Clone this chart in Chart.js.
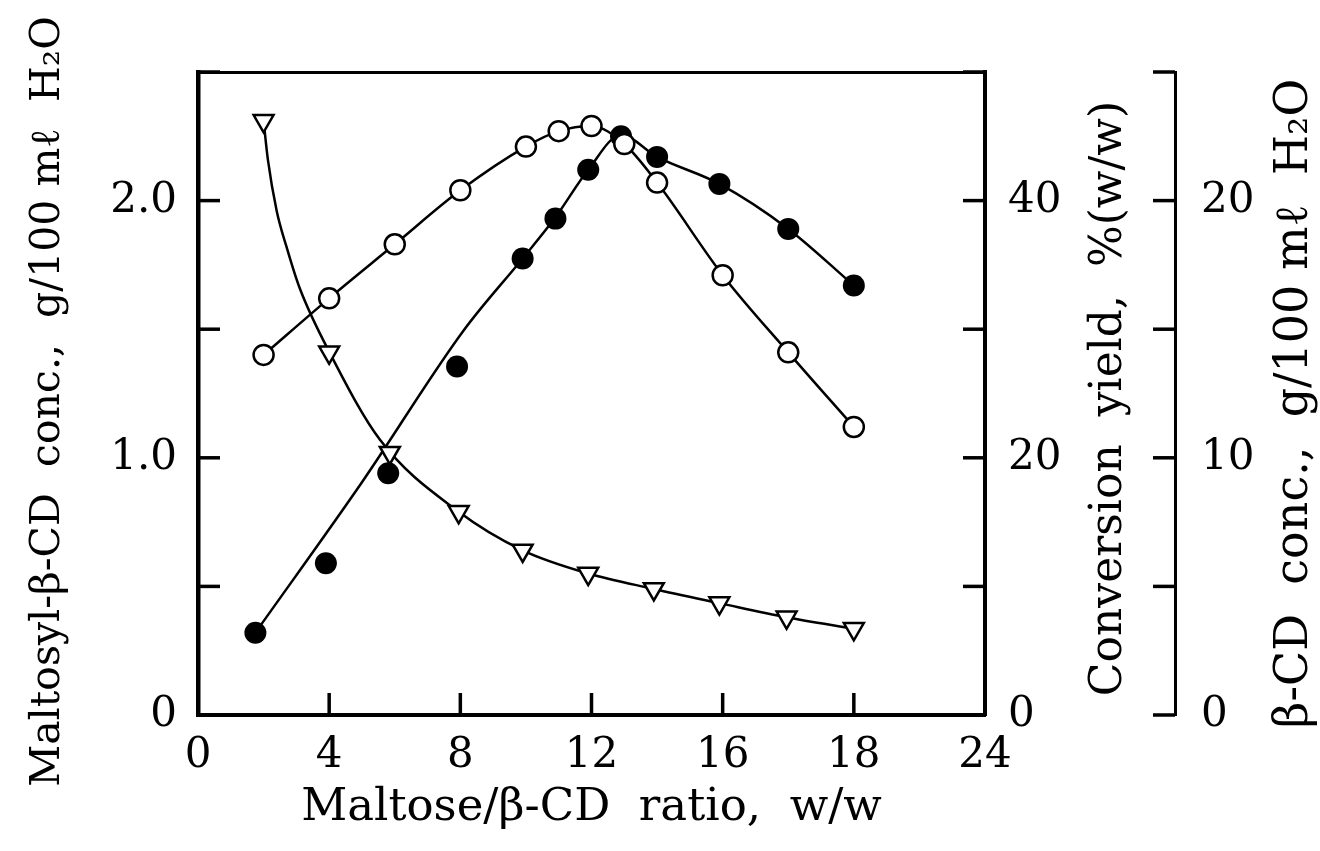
<!DOCTYPE html>
<html>
<head>
<meta charset="utf-8">
<script src="https://cdn.jsdelivr.net/npm/chart.js@4.4.1/dist/chart.umd.min.js"></script>
<style>
  html, body { margin: 0; padding: 0; background: #fff; }
  #wrap { width: 1320px; height: 851px; }
</style>
</head>
<body>
<div id="wrap"><canvas id="myChart" width="1320" height="851"></canvas></div>
<script>
// open circles: maltosyl-beta-CD conc. (left axis)
var ratioOpen = [2, 4, 6, 8, 10, 11, 12, 13, 14, 16, 18, 20];
var maltosylConc = [1.40, 1.62, 1.83, 2.04, 2.21, 2.27, 2.29, 2.22, 2.07, 1.71, 1.41, 1.12];

// filled circles: conversion yield (first right axis)
var ratioFilled = [1.75, 3.9, 5.8, 7.9, 9.9, 10.9, 11.9, 12.9, 14, 15.9, 18, 20];
var conversionYield = [6.4, 11.8, 18.8, 27.1, 35.5, 38.6, 42.4, 45.0, 43.4, 41.3, 37.8, 33.4];

// drawn curve for the filled points (misses the points at 4, 6, 8)
var yieldCurveRatio = [1.75, 5, 8.1, 9.9, 10.9, 11.9, 12.9, 14, 15.9, 18, 20];
var yieldCurve = [6.4, 18.1, 29.9, 35.5, 38.7, 42.4, 45.1, 43.4, 41.3, 37.8, 33.4];

// triangles: beta-CD conc. (second right axis)
var ratioTri = [2, 4, 5.85, 7.95, 9.9, 11.9, 13.9, 15.9, 17.95, 20];
var betaCDConc = [23.1, 14.1, 10.2, 7.9, 6.4, 5.5, 4.9, 4.35, 3.8, 3.35];

// drawn curve for the triangles
var betaCurveRatio = [2.0, 2.13, 2.4, 2.7, 3.1, 4.05, 5.55, 7.95, 9.9, 11.9, 13.9, 15.9, 17.95, 20];
var betaCurve = [23.1, 21.6, 19.6, 18.2, 16.6, 14.0, 10.7, 7.9, 6.4, 5.5, 4.9, 4.35, 3.8, 3.35];

// tick labels as printed (the tick at 20 reads "18" in the original)
var xTickLabels = ['0', '4', '8', '12', '16', '18', '24'];
var leftTickLabels = {0: '0', 1: '1.0', 2: '2.0'};

var serif = "'DejaVu Serif', 'Liberation Serif', serif";
Chart.defaults.color = '#000';
Chart.defaults.font.family = serif;

function pts(xs, ys) {
  return xs.map(function (x, i) { return {x: x, y: ys[i]}; });
}

// tick marks point into the plot (x, y, y1) and to the left on y2
var innerTicks = {
  id: 'innerTicks',
  afterDraw: function (chart) {
    var ctx = chart.ctx;
    ctx.save();
    ctx.strokeStyle = '#000';
    ctx.lineWidth = 3.5;
    ['x', 'y', 'y1', 'y2'].forEach(function (id) {
      var s = chart.scales[id];
      s.ticks.forEach(function (t) {
        var p = s.getPixelForValue(t.value);
        ctx.beginPath();
        if (id === 'x') { ctx.moveTo(p, s.top); ctx.lineTo(p, s.top - 22); }
        else if (id === 'y') { ctx.moveTo(s.right, p); ctx.lineTo(s.right + 22, p); }
        else { ctx.moveTo(s.left, p); ctx.lineTo(s.left - 22, p); }
        ctx.stroke();
      });
    });
    ctx.restore();
  }
};

// vertical axis titles, all reading bottom to top
var sideTitles = {
  id: 'sideTitles',
  afterDraw: function (chart) {
    var ctx = chart.ctx;
    var list = [
      {scale: chart.scales.y, text: 'Maltosyl-β-CD  conc.,  g/100 mℓ  H₂O', x: chart.scales.y.left + 48, dy: 8, size: 41},
      {scale: chart.scales.y1, text: 'Conversion  yield,  %(w/w)', x: chart.scales.y1.right - 65, dy: 5, size: 44},
      {scale: chart.scales.y2, text: 'β-CD  conc.,  g/100 mℓ  H₂O', x: chart.scales.y2.right - 25, dy: 10, size: 46}
    ];
    list.forEach(function (t) {
      var s = t.scale;
      ctx.save();
      ctx.translate(t.x, (s.top + s.bottom) / 2 + t.dy);
      ctx.rotate(-Math.PI / 2);
      ctx.font = t.size + 'px ' + serif;
      ctx.fillStyle = '#000';
      ctx.textAlign = 'center';
      ctx.textBaseline = 'middle';
      ctx.fillText(t.text, 0, 0);
      ctx.restore();
    });
  }
};

var noGrid = {display: false};

new Chart(document.getElementById('myChart'), {
  type: 'line',
  data: {
    datasets: [{
      label: 'Maltosyl-β-CD',
      data: pts(ratioOpen, maltosylConc),
      yAxisID: 'y',
      borderColor: '#000',
      borderWidth: 2.5,
      cubicInterpolationMode: 'monotone',
      pointStyle: 'circle',
      pointRadius: 10,
      pointBorderWidth: 2.5,
      pointBackgroundColor: '#fff',
      pointBorderColor: '#000'
    }, {
      label: 'β-CD',
      data: pts(ratioTri, betaCDConc),
      yAxisID: 'y2',
      showLine: false,
      pointStyle: 'triangle',
      rotation: 180,
      pointRadius: 11.5,
      pointBorderWidth: 2.5,
      pointBackgroundColor: '#fff',
      pointBorderColor: '#000'
    }, {
      label: 'β-CD curve',
      data: pts(betaCurveRatio, betaCurve),
      yAxisID: 'y2',
      borderColor: '#000',
      borderWidth: 2.5,
      cubicInterpolationMode: 'monotone',
      pointRadius: 0
    }, {
      label: 'Conversion yield',
      data: pts(ratioFilled, conversionYield),
      yAxisID: 'y1',
      showLine: false,
      pointStyle: 'circle',
      pointRadius: 11,
      pointBorderWidth: 0,
      pointBackgroundColor: '#000',
      pointBorderColor: '#000'
    }, {
      label: 'Yield curve',
      data: pts(yieldCurveRatio, yieldCurve),
      yAxisID: 'y1',
      borderColor: '#000',
      borderWidth: 2.5,
      cubicInterpolationMode: 'monotone',
      pointRadius: 0
    }]
  },
  options: {
    responsive: false,
    animation: false,
    layout: {padding: 0},
    plugins: {legend: {display: false}, tooltip: {enabled: false}},
    scales: {
      x: {
        type: 'linear', position: 'bottom', min: 0, max: 24,
        border: {display: true, color: '#000', width: 4},
        grid: noGrid,
        ticks: {
          stepSize: 4, padding: 8, maxRotation: 0, autoSkip: false,
          font: {size: 42},
          callback: function (v) { return xTickLabels[Math.round(v / 4)]; }
        },
        title: {display: true, text: 'Maltose/β-CD  ratio,  w/w', font: {size: 45}, padding: {top: 0, bottom: 16}},
        afterFit: function (s) { s.height = 136; }
      },
      xTop: {
        type: 'linear', position: 'top', min: 0, max: 24,
        border: {display: true, color: '#000', width: 3},
        grid: noGrid,
        ticks: {display: false},
        afterFit: function (s) { s.height = 72; }
      },
      y: {
        type: 'linear', position: 'left', min: 0, max: 2.5,
        border: {display: true, color: '#000', width: 4.5},
        grid: noGrid,
        ticks: {
          stepSize: 0.5, padding: 13, font: {size: 42},
          callback: function (v) { return leftTickLabels[v] || ''; }
        },
        afterFit: function (s) { s.width = 198; }
      },
      y1: {
        type: 'linear', position: 'right', min: 0, max: 50, weight: 0,
        border: {display: true, color: '#000', width: 4},
        grid: noGrid,
        ticks: {
          stepSize: 10, padding: 15, font: {size: 42},
          callback: function (v) { return v % 20 === 0 ? String(v) : ''; }
        },
        afterFit: function (s) { s.width = 190; }
      },
      y2: {
        type: 'linear', position: 'right', min: 0, max: 25, weight: 1,
        border: {display: true, color: '#000', width: 3},
        grid: noGrid,
        ticks: {
          stepSize: 5, padding: 18, font: {size: 42},
          callback: function (v) { return v % 10 === 0 ? String(v) : ''; }
        },
        afterFit: function (s) { s.width = 145; }
      }
    }
  },
  plugins: [innerTicks, sideTitles]
});
</script>
</body>
</html>
